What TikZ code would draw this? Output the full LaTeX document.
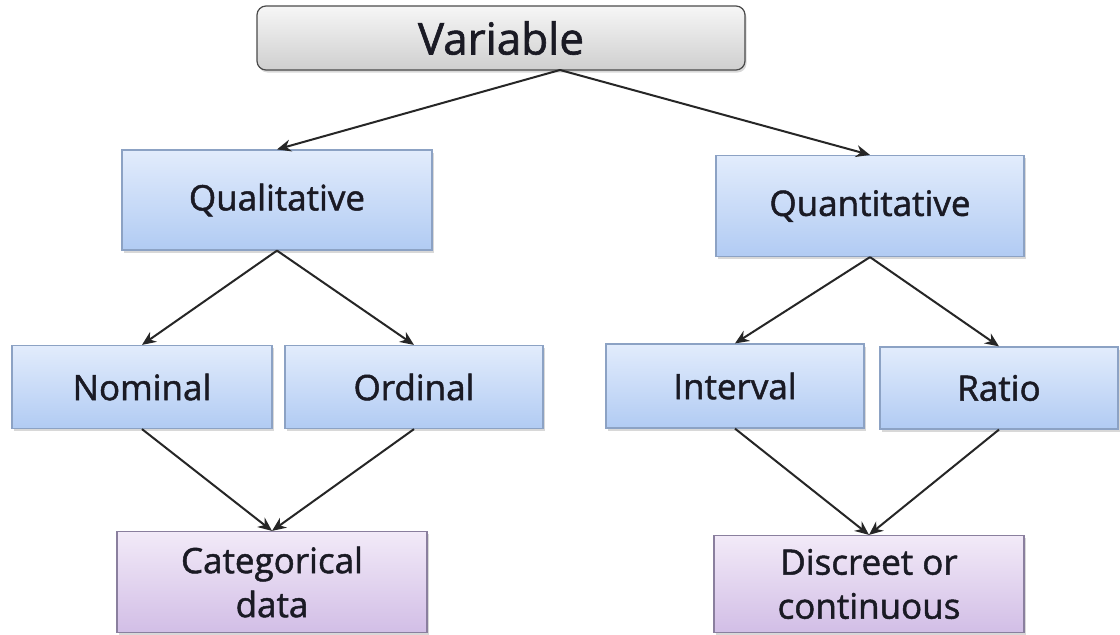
\documentclass[tikz,border=0pt]{standalone}
\usepackage{fontspec}
\setmainfont{Open Sans}
\newfontfamily\boxfont{Open Sans}[FakeBold=1.4]
\usetikzlibrary{arrows.meta,shadows}
\definecolor{bluetop}{HTML}{E2ECFC}
\definecolor{bluebot}{HTML}{B1CBF3}
\definecolor{blueedge}{HTML}{8CA2C4}
\definecolor{purtop}{HTML}{F2EAF8}
\definecolor{purbot}{HTML}{D2BEE6}
\definecolor{puredge}{HTML}{8A7F9E}
\definecolor{graytop}{HTML}{F6F6F6}
\definecolor{graybot}{HTML}{CFCFCF}
\definecolor{grayedge}{HTML}{4A4A4A}
\definecolor{txt}{HTML}{1A1A24}
\begin{document}
\begin{tikzpicture}[x=1pt,y=-1pt,
  boxbase/.style={draw, line width=1.2pt, inner sep=0pt, align=center,
    text=txt, font=\boxfont\fontsize{35}{44}\selectfont,
    drop shadow={shadow xshift=1.5pt, shadow yshift=-2.5pt, opacity=0.3}},
  topbox/.style={boxbase, rounded corners=9pt, draw=grayedge, top color=graytop, bottom color=graybot,
    font=\boxfont\fontsize{44}{50}\selectfont},
  bluebox/.style={boxbase, draw=blueedge, top color=bluetop, bottom color=bluebot},
  purbox/.style={boxbase, draw=puredge, top color=purtop, bottom color=purbot},
  conn/.style={draw=black!85, line width=2pt, -{Stealth[length=14pt,width=12pt]}}
]
\useasboundingbox[fill=white] (0,0) rectangle (1120,635);
\node[topbox, minimum width=488pt, minimum height=64pt] (var) at (501,38) {Variable};
\node[bluebox, minimum width=310pt, minimum height=100pt] (qual) at (277,200) {Qualitative};
\node[bluebox, minimum width=308pt, minimum height=101pt] (quant) at (870,206) {Quantitative};
\node[bluebox, minimum width=260pt, minimum height=83pt] (nom) at (142,387) {Nominal};
\node[bluebox, minimum width=258pt, minimum height=83pt] (ord) at (414,387) {Ordinal};
\node[bluebox, minimum width=258pt, minimum height=84pt] (int) at (735,386) {Interval};
\node[bluebox, minimum width=238pt, minimum height=82pt] (ratio) at (999,388) {Ratio};
\node[purbox, minimum width=310pt, minimum height=101pt] (cat) at (272,582) {Categorical\\data};
\node[purbox, minimum width=310pt, minimum height=97pt] (disc) at (869,584) {Discreet or\\continuous};
\coordinate (vs) at (560,70);
\draw[conn] (vs) -- (qual.north);
\draw[conn] (vs) -- (quant.north);
\draw[conn] (qual.south) -- (nom.north);
\draw[conn] (qual.south) -- (ord.north);
\draw[conn] (quant.south) -- (int.north);
\draw[conn] (quant.south) -- (ratio.north);
\draw[conn] (nom.south) -- (cat.north);
\draw[conn] (ord.south) -- (cat.north);
\draw[conn] (int.south) -- (disc.north);
\draw[conn] (ratio.south) -- (disc.north);
\end{tikzpicture}
\end{document}
